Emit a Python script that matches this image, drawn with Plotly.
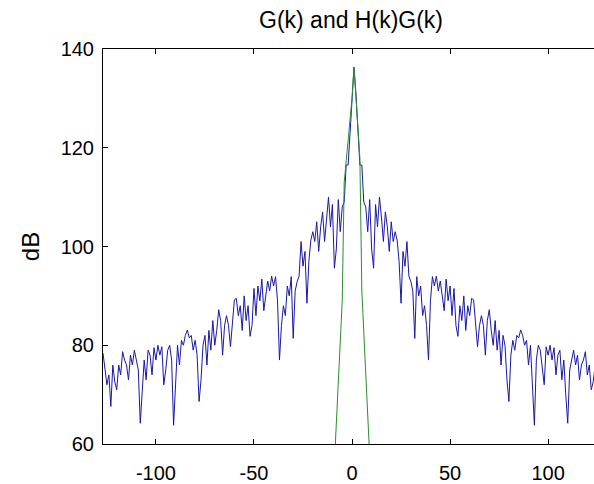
import plotly.graph_objects as go

# frequency bins
k = list(range(-127, 129))

# G(k) in dB (blue)
g_db = [
    78.4, 75, 72, 74, 67.6, 76, 72.6, 71, 76, 74,
    78.7, 77, 76, 73, 78, 76, 79, 77, 75, 64.2,
    70, 77, 73, 79, 78, 74, 79.5, 77, 80, 78,
    79.7, 72, 75, 79, 80, 77, 63.8, 72, 80, 76,
    81, 80, 82, 83.1, 81.5, 82, 79, 81, 78, 68.6,
    73, 80, 82, 76, 83, 79, 85, 80, 83, 87.2,
    85, 78, 84, 86, 84, 79.7, 85, 89.2, 89.5, 86,
    88, 83, 90, 85, 88, 81.8, 84, 91.5, 86, 92,
    89, 93.4, 87, 90, 93, 91, 94, 92, 93.9, 89,
    77, 84, 88, 86, 92, 90, 93.9, 81.4, 91, 92.9,
    94, 101, 96, 99, 88.5, 97, 101.3, 103, 101, 105,
    99, 104, 107, 101, 106, 110, 104, 108.5, 95.6, 99.5,
    109.5, 103, 108, 109, 116.5, 116.5, 123, 131,
    136.3,
    131, 123, 116.5, 116.5, 109, 108, 103, 109.5, 99.5, 95.6,
    108.5, 104, 110, 106, 101, 107, 104, 99, 105, 101,
    103, 101.3, 97, 88.5, 99, 96, 101, 94, 92.9, 91,
    81.4, 93.9, 90, 92, 86, 88, 84, 77, 89, 93.9,
    92, 94, 91, 93, 90, 87, 93.4, 89, 92, 86,
    91.5, 84, 81.8, 88, 85, 90, 83, 88, 86, 89.5,
    89.2, 85, 79.7, 84, 86, 84, 78, 85, 87.2, 83,
    80, 85, 79, 83, 76, 82, 80, 73, 68.6, 78,
    81, 79, 82, 81.5, 83.1, 82, 80, 81, 76, 80,
    72, 63.8, 77, 80, 79, 75, 72, 79.7, 78, 80,
    77, 79.5, 74, 78, 79, 73, 77, 70, 64.2, 75,
    77, 79, 76, 78, 73, 76, 77, 78.7, 74, 76,
    71, 72.6, 76, 67.6, 74, 72, 75,
]

# H(k)G(k) in dB (green)
hg_k = [-9, -8, -7, -6, -5, -4, -3, -2, -1, 0, 1, 2, 3, 4, 5, 6, 7, 8, 9]
hg_db = [56, 64.2, 72.5, 80.7, 89, 113, 117, 121, 125, 130, 136.3,
         130, 124, 118, 91, 83, 74.5, 66, 57.5]

x_ticks = [-100, -50, 0, 50, 100]
x_labels = ["-100", "-50", "0", "50", "100"]
y_ticks = [60, 80, 100, 120, 140]
y_labels = ["60", "80", "100", "120", "140"]

fig = go.Figure()
fig.add_trace(go.Scatter(x=k, y=g_db, mode="lines",
                         line=dict(color="#1818a8", width=1)))
fig.add_trace(go.Scatter(x=hg_k, y=hg_db, mode="lines",
                         line=dict(color="#2e8b2e", width=1)))

font = dict(family="Liberation Sans, Arial, sans-serif", size=20, color="black")

fig.update_layout(
    width=594, height=484,
    margin=dict(l=103, r=0, t=49, b=40),
    paper_bgcolor="white", plot_bgcolor="white",
    showlegend=False,
    font=font,
    title=dict(text="G(k) and H(k)G(k)", x=351 / 594, xanchor="center",
               y=1 - 19.5 / 484, yanchor="middle",
               font=dict(family="Liberation Sans, Arial, sans-serif",
                         size=23, color="black")),
)
fig.update_xaxes(range=[-127, 123.4], tickvals=x_ticks, ticktext=x_labels,
                 ticks="inside", ticklen=5, tickcolor="black", showline=True,
                 linecolor="black", linewidth=1, mirror="ticks",
                 showgrid=False, zeroline=False, ticklabelstandoff=11)
fig.update_yaxes(range=[60, 140], tickvals=y_ticks, ticktext=y_labels,
                 ticks="inside", ticklen=5, tickcolor="black", showline=True,
                 linecolor="black", linewidth=1, mirror=False,
                 showgrid=False, zeroline=False,
                 title=dict(text="dB", standoff=14), ticklabelstandoff=4)

fig.write_html("out.html")
